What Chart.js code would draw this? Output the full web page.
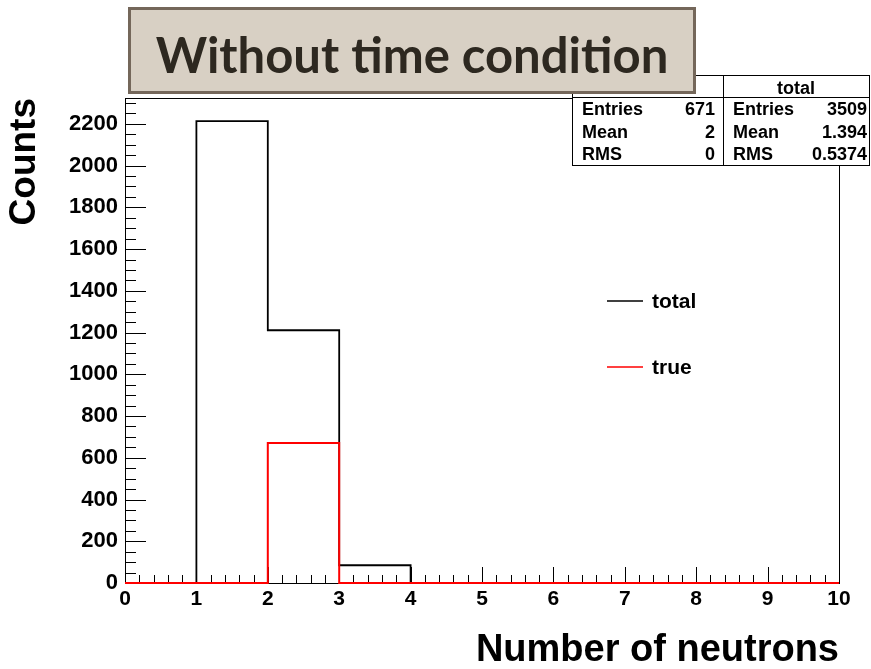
<!DOCTYPE html>
<html>
<head>
<meta charset="utf-8">
<script src="https://cdn.jsdelivr.net/npm/chart.js@4.4.1/dist/chart.umd.min.js"></script>
<style>
  html, body { margin: 0; padding: 0; background: #fff; }
  #wrap { position: relative; width: 871px; height: 669px; }
  #title {
    position: absolute; left: 128px; top: 7px; width: 568px; height: 87px;
    box-sizing: border-box; border: 3px solid #74675a; background: #d8d0c4;
    color: #2d2820; font-family: Lato, "Open Sans", sans-serif; font-weight: 700;
    font-size: 49px; text-align: center; line-height: 88px;
  }
</style>
</head>
<body>
<div id="wrap">
  <canvas id="hist" width="871" height="669"></canvas>
  <div id="title">Without time condition</div>
</div>
<script>
// histogram bins (low edges + last high edge) and contents
var binEdges = [0, 1, 2, 3, 4, 5, 6, 7, 8, 9, 10];
var totalCounts = [0, 2213, 1211, 85, 0, 0, 0, 0, 0, 0];
var trueCounts = [0, 0, 671, 0, 0, 0, 0, 0, 0, 0];

// axis labels
var xTicks = [0, 1, 2, 3, 4, 5, 6, 7, 8, 9, 10];
var yTicks = [0, 200, 400, 600, 800, 1000, 1200, 1400, 1600, 1800, 2000, 2200];
var yMax = 2324;

// stat box contents
var statLabels = ['Entries', 'Mean', 'RMS'];
var statsTrue = ['671', '2', '0'];
var statsTotal = ['3509', '1.394', '0.5374'];

var boldFont = '"Liberation Sans", Arial, Helvetica, sans-serif';

// point at each low edge, plus the last high edge; stepped 'before'
// keeps each bin's value flat until the next edge
function stepPoints(counts) {
    var pts = counts.map((c, i) => ({ x: binEdges[i], y: c }));
    pts.push({ x: binEdges[binEdges.length - 1], y: counts[counts.length - 1] });
    return pts;
}

function hline(ctx, x1, y1, x2, y2) {
    ctx.beginPath();
    ctx.moveTo(x1, y1);
    ctx.lineTo(x2, y2);
    ctx.stroke();
}

// frame and inward ticks, ROOT style
var framePlugin = {
    id: 'frame',
    beforeDatasetsDraw(chart) {
        var ctx = chart.ctx, a = chart.chartArea;
        var xs = chart.scales.x, ys = chart.scales.y;
        ctx.save();
        ctx.strokeStyle = '#000';
        ctx.lineWidth = 1;
        ctx.strokeRect(a.left + 0.5, a.top + 0.5, a.right - a.left, a.bottom - a.top);
        for (var k = 0; k * 50 <= ys.max; k++) {
            var py = Math.round(ys.getPixelForValue(k * 50)) + 0.5;
            hline(ctx, a.left, py, a.left + (k % 4 === 0 ? 21 : 11), py);
        }
        for (var j = 0; j <= 50; j++) {
            var px = Math.round(xs.getPixelForValue(j * 0.2)) + 0.5;
            hline(ctx, px, a.bottom, px, a.bottom - (j % 5 === 0 ? 16 : 8));
        }
        ctx.restore();
    },
    afterDraw(chart) {
        var ctx = chart.ctx;
        ctx.save();
        // stat boxes
        ctx.fillStyle = '#fff';
        ctx.fillRect(572, 75, 297, 90);
        ctx.strokeStyle = '#000';
        ctx.lineWidth = 1;
        ctx.strokeRect(572.5, 75.5, 151, 90);
        ctx.strokeRect(723.5, 75.5, 146, 90);
        hline(ctx, 572, 97.5, 870, 97.5);
        ctx.fillStyle = '#000';
        ctx.font = 'bold 18px ' + boldFont;
        ctx.textBaseline = 'alphabetic';
        ctx.textAlign = 'center';
        ctx.fillText('total', 796, 94);
        var rows = [115, 138, 160];
        statLabels.forEach((lab, i) => {
            ctx.textAlign = 'left';
            ctx.fillText(lab, 582, rows[i]);
            ctx.fillText(lab, 733, rows[i]);
            ctx.textAlign = 'right';
            ctx.fillText(statsTrue[i], 715, rows[i]);
            ctx.fillText(statsTotal[i], 867, rows[i]);
        });
        // legend
        var items = [chart.data.datasets[1], chart.data.datasets[0]];
        var ly = [301, 367];
        ctx.font = 'bold 21px ' + boldFont;
        ctx.textAlign = 'left';
        ctx.textBaseline = 'middle';
        items.forEach((ds, i) => {
            ctx.strokeStyle = ds.borderColor;
            ctx.lineWidth = 1.5;
            hline(ctx, 607, ly[i], 643, ly[i]);
            ctx.fillText(ds.label, 652, ly[i] + 1);
        });
        ctx.restore();
    }
};

var ctx = document.getElementById('hist').getContext('2d');
var hist = new Chart(ctx, {
    type: 'line',
    data: {
        datasets: [
            {
                label: 'true',
                data: stepPoints(trueCounts),
                borderColor: '#ff0000',
                borderWidth: 2,
                stepped: 'before',
                pointRadius: 0,
                fill: false,
                clip: 4,
                order: 0
            },
            {
                label: 'total',
                data: stepPoints(totalCounts),
                borderColor: '#000000',
                borderWidth: 1.8,
                stepped: 'before',
                pointRadius: 0,
                fill: false,
                clip: 4,
                order: 1
            }
        ]
    },
    options: {
        responsive: false,
        animation: false,
        layout: { padding: { top: 98, right: 32, left: 0, bottom: 0 } },
        scales: {
            x: {
                type: 'linear',
                min: 0,
                max: 10,
                afterBuildTicks: s => { s.ticks = xTicks.map(v => ({ value: v })); },
                afterFit: s => { s.height = 86; },
                grid: { display: false, drawTicks: false },
                border: { display: false },
                ticks: {
                    padding: 4,
                    color: '#000',
                    maxRotation: 0,
                    autoSkip: false,
                    callback: v => String(v),
                    font: { family: boldFont, weight: 'bold', size: 21 }
                },
                title: {
                    display: true,
                    text: 'Number of neutrons',
                    align: 'end',
                    color: '#000',
                    padding: { top: 0, bottom: 0 },
                    font: { family: boldFont, weight: 'bold', size: 38, lineHeight: 0.95 }
                }
            },
            y: {
                min: 0,
                max: yMax,
                afterBuildTicks: s => { s.ticks = yTicks.map(v => ({ value: v })); },
                afterFit: s => { s.width = 125; },
                grid: { display: false, drawTicks: false },
                border: { display: false },
                ticks: {
                    padding: 7,
                    color: '#000',
                    autoSkip: false,
                    callback: v => String(v),
                    font: { family: boldFont, weight: 'bold', size: 22 }
                },
                title: {
                    display: true,
                    text: 'Counts',
                    align: 'end',
                    color: '#000',
                    padding: { top: 3, bottom: 0 },
                    font: { family: boldFont, weight: 'bold', size: 37 }
                }
            }
        },
        plugins: {
            legend: { display: false },
            tooltip: { enabled: false }
        }
    },
    plugins: [framePlugin]
});
</script>
</body>
</html>
